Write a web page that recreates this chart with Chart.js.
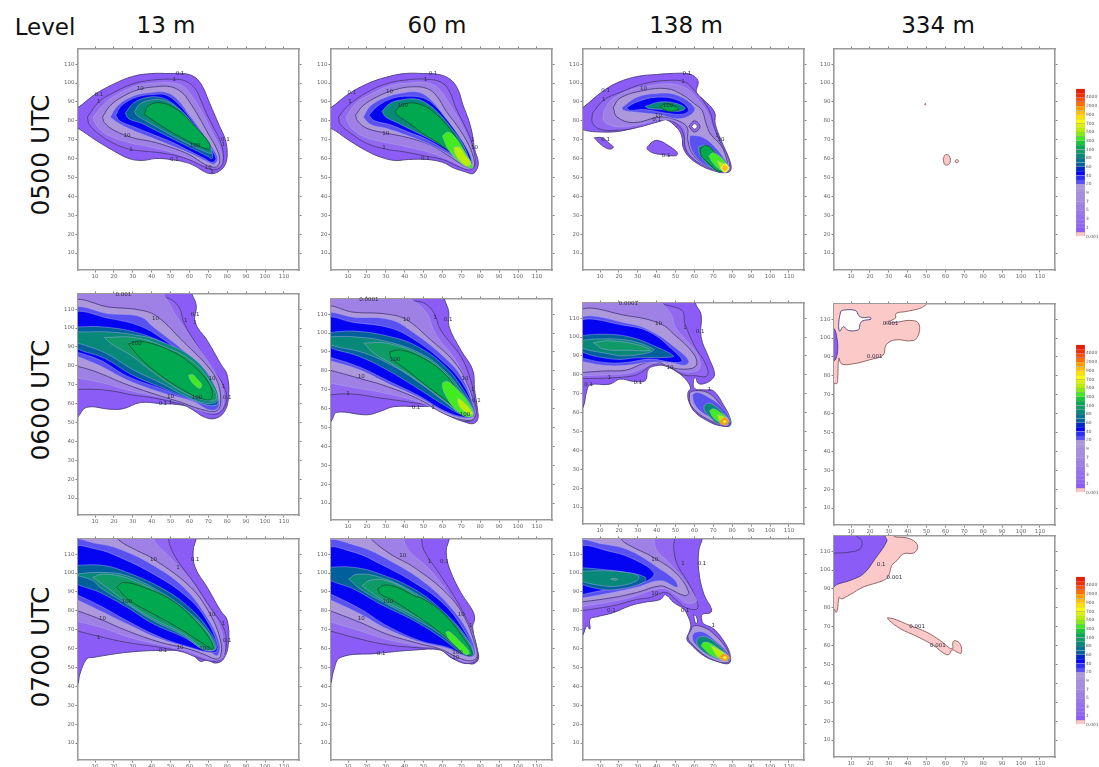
<!DOCTYPE html>
<html>
<head>
<meta charset="utf-8">
<title>Levels</title>
<script src="https://cdn.jsdelivr.net/npm/chart.js@4"></script>
<style>
  html, body { margin: 0; padding: 0; background: #fff; }
  body { position: relative; width: 1099px; height: 767px; overflow: hidden; }
  canvas { position: absolute; filter: blur(0.45px); }
  .head { position: absolute; font-family: "DejaVu Sans", sans-serif; font-size: 23px; color: #111; white-space: nowrap; transform: translate(-50%, -50%); }
  .side { position: absolute; font-family: "DejaVu Sans", sans-serif; font-size: 25px; color: #111; white-space: nowrap; transform: translate(-50%, -50%) rotate(-90deg); }
</style>
</head>
<body>
<script>
// axis and colour bar
const tickValues = [10, 20, 30, 40, 50, 60, 70, 80, 90, 100, 110];
const legendLevels = ['0.001','0.1','1','2','3','4','5','6','7','8','9','10','20','30','40','50','60','70','80','90','100','200','300','400','500','600','700','800','900','1000','2000','3000','4000','5000'];
const legendLabelled = ['0.001','1','3','5','7','9','20','40','60','80','100','300','500','700','900','2000','4000'];
const columnTitles = ['13 m', '60 m', '138 m', '334 m'];
const rowTitles = ['0500 UTC', '0600 UTC', '0700 UTC'];

// 0500 UTC 13 m
const a_01 = [[-2,86],[1,87],[10,94],[20,99.5],[30,103.5],[40,105],[50,105],[57,105],[63,103],[67,98],[70,91],[73,84],[76,77],[79,70],[80,63],[79,57],[76,53.5],[72,52],[68,53],[63,56],[58,58],[50,59.5],[42,60],[35,59],[28,60],[20,64],[10,70],[1,76],[-2,77]];
const a_1 = [[6,82],[12,90],[20,95],[30,99.5],[40,101.5],[52,102],[58,101],[63,97],[66,91],[69,84],[73,76],[76,70],[78,62],[77,56],[73,54],[68,55.5],[62,58.5],[55,61],[45,63],[35,64],[28,65],[20,68],[12,73],[7,78]];
const a_5 = [[9,82],[15,89],[22,94],[32,98.5],[42,100],[51,100],[57,98],[62,92],[67,84],[72,74],[76,66],[77,58],[74,55.3],[68,56.5],[60,60],[50,63.5],[40,66],[30,68],[20,71],[13,75],[10,79]];
const a_10 = [[14,82],[18,88],[25,93],[33,96.5],[42,98],[50,98],[56,95],[60,90],[65,82],[70,73],[74,66],[76,60],[75,56],[72,55.5],[68,57],[60,62],[50,66],[40,69],[30,71],[20,75],[15,79]];
const a_20 = [[18,82],[22,88],[30,93],[40,95],[48,95],[54,91],[60,83],[66,75],[72,66],[75,60],[73,57],[70,58],[62,62],[50,67],[40,71],[30,75],[22,79]];
const a_40 = [[21,83],[24,88],[32,92.5],[42,94],[48,93.5],[54,89],[60,82],[66,74],[71,66],[74,60],[72,58],[68,60],[60,64],[50,69],[40,73],[30,77],[23,80]];
const a_60 = [[26,84],[30,89],[36,92],[44,92.5],[50,90],[56,85],[62,78],[68,70],[72,63],[72,60],[70,61],[62,65],[52,70],[42,75],[34,79],[28,81]];
const a_80 = [[31,85],[34,89],[40,91],[46,91],[52,88],[58,83],[64,76],[70,68],[72,63],[70,63],[62,66.5],[52,71.5],[44,76],[36,80.5],[32,83]];
const a_100 = [[36,83.5],[38.4,88],[44.6,89.5],[53.4,86],[62,78],[69.7,69.4],[71,66],[69.7,65],[62,68],[53.4,72.4],[44.6,77.7]];
const a_text = [[55,105,'0.1'],[12,94,'0.1'],[12,90,'1'],[52,102,'1'],[34,97,'10'],[27,72,'10'],[29,65,'1'],[63,67,'100'],[52,59.5,'0.1'],[79,70,'0.1'],[78,67.5,'1'],[70,55,'10'],[72,53,'1']];

// 0500 UTC 60 m
const b_01 = [[-2,86],[1,87],[10,94],[20,99.5],[30,103],[40,105],[50,105],[58,104.5],[64,102],[68,97],[71,88],[74,80],[76,72],[77,65],[79,58],[78,54],[76,52],[72,53],[66,55],[60,58],[52,59.5],[42,59.5],[35,59],[28,60.5],[20,64],[10,70],[1,76],[-2,76]];
const b_1 = [[5,82],[10,88],[20,95],[30,99.5],[40,101.5],[52,102],[60,100],[64,95],[67,87],[71,79],[75,70],[77,62],[77,56],[74,54],[68,56],[60,59.5],[50,61.5],[40,63.5],[30,65],[20,68],[12,73],[6,78]];
const b_5 = [[9,82],[14,89],[22,94],[32,98.5],[42,100],[52,100],[58,97],[63,90],[68,82],[73,72],[77,60],[76,55],[72,55],[64,59],[54,63],[42,66],[30,68.5],[20,71],[13,75],[10,79]];
const b_10 = [[14,83],[18,88],[26,93],[35,96.5],[44,98],[52,97],[57,93],[62,85],[68,77],[74,67],[77,58],[76,55],[72,56],[64,61],[54,67],[42,71],[30,73.5],[20,76],[15,80]];
const b_20 = [[18,82],[22,88],[30,92.5],[40,95],[48,95],[54,91],[60,84],[66,76],[72,67],[76,58],[74,56],[70,58],[62,63],[52,68],[42,72],[30,76],[22,78]];
const b_40 = [[21,83],[26,88],[34,92],[42,93],[50,92],[56,88],[62,81],[68,73],[74,63],[75,58],[72,58],[64,63],[52,70],[42,74],[32,78],[24,80]];
const b_80 = [[28,85],[32,89],[38,91],[46,91.5],[52,89],[58,84],[64,77],[70,69],[74,60],[74,57],[71,58],[64,64],[54,70],[44,75],[36,79],[30,82]];
const b_100 = [[35,85],[38,88],[43,89.5],[50,88],[56,84],[62,78],[68,70],[74,60],[75,56],[72,57],[66,62],[58,68],[50,73],[42,79],[36,83]];
const b_300 = [[60,72],[63,74],[67,71],[71,65],[75,58],[76,55],[73,55.5],[68,59],[63,65]];
const b_500 = [[66,66],[69,66],[72,62],[75,58],[74,56],[71,57],[67,62]];
const b_text = [[55,105,'0.1'],[12,95,'0.1'],[11,90,'1'],[51,102,'1'],[32,95.5,'10'],[39,88,'100'],[30,73,'10'],[29,66,'1'],[51,60,'0.1'],[76,70,'1'],[77,66,'10']];

// 0500 UTC 138 m
const c_01 = [[-2,85],[1,87],[12,96],[20,100.5],[30,103.5],[40,104.5],[47,105],[56,105],[60,103.5],[62,100.5],[61,95],[65,91],[70.6,84.6],[71,78.4],[74,70],[79,58],[79,53.5],[76,52.5],[72,53],[64,56],[57,61],[54,66],[53.4,71.4],[51,76],[44,81],[36.6,80],[27.7,76],[12,74],[-2,77]];
const c_01b = [[7,71],[11,71],[15,68],[17,66],[15,65],[11,67]];
const c_01c = [[35,66],[38,69],[41,69.5],[46,67],[51,63],[50,61.5],[44,62],[38,63],[35,65]];
const c_1 = [[6,84],[12,91],[20.6,95],[33,99.6],[47,101.4],[55,100.5],[60,96],[65,90],[68.5,84],[70,78],[73,70],[78,59],[78,54],[73,53.5],[65,56.5],[58,61],[55,66],[54.5,72],[52,77],[46,80.5],[41,79.5],[30,76.5],[20,75],[10,75.5],[6,79]];
const c_5 = [[12,85],[16,91],[25,96],[36,98.5],[47,99.5],[56,97],[62,91],[67,84],[69,78],[72,71],[77.5,60],[77.5,54.5],[72.5,53.7],[65,56.7],[58.5,61.5],[55.5,68],[55,75],[50,79.5],[42,80.5],[28,77.5],[18,77],[12,80]];
const c_10 = [[17,87],[20.6,92],[33,96],[45.5,97],[54,93.5],[60,89],[64,85.5],[66,79],[68.5,73],[74,67],[77,60],[77,55],[72,54],[65,57],[59,62.5],[56.5,69.6],[56,76.7],[50,80.5],[42,82],[27.7,79],[19,82]];
const c_20 = [[21.5,87],[29.5,92.5],[40,94.5],[51,93.5],[60,87],[58,83],[51,81],[42,83],[29.5,84.5],[22.4,85.5]];
const c_40 = [[24,87],[29.5,90],[40,92.5],[51,91],[57,86],[54,83.5],[45.5,84],[33,86],[26,85.5]];
const c_80 = [[34,87.6],[42,90],[51,89],[55,86.5],[51,85],[42,86],[36,86.5]];
const c_100 = [[41.6,87.6],[45.5,89],[51,87],[51.7,86],[47,85],[43,86.4]];
const c_ring = [[57,77],[60,80],[63,77],[60,74]];
const c_hole = [[58.5,77],[60,78.5],[61.5,77],[60,75.5]];
const c_20b = [[57.5,72.3],[64,71.4],[70,67],[77,58],[78,54.5],[72,54.5],[65,57],[59.6,62.5],[57.5,67.8]];
const c_80b = [[62,66],[66,67],[72,62.5],[78,56.5],[77,53.5],[72,53.5],[67,57],[63,62]];
const c_100b = [[63,65],[66.4,67],[72,62],[78,55.5],[76,53.5],[72,53.5],[67,58],[63.5,61.5]];
const c_300b = [[67.6,61.5],[70,63],[74,60.5],[77.7,55.8],[76.5,53.8],[73,54.5],[69.5,58]];
const c_500b = [[72,59],[77,56],[76.5,53.5],[74,54.6]];
const c_700b = [[73.5,55],[76,57.5],[78.5,55],[76,52.5]];
const c_900b = [[74.5,55],[76,56.5],[77.5,55],[76,53.5]];
const c_text = [[56,105,'0.1'],[13,96,'0.1'],[12,91,'1'],[54,100.5,'1'],[33,97,'10'],[46,88,'100'],[41,82.5,'10'],[40,80.5,'0.1'],[13,70,'0.1'],[45,61.5,'0.1'],[72,72,'1'],[74,70,'10']];

// 0500 UTC 334 m
const d_dot = [[48.9,88.8],[49.3,89.2],[49.7,88.8],[49.3,88.4]];
const d_blob = [[58.8,60],[60,62],[62,61.5],[62.5,58],[61,56.6],[59.5,57]];
const d_small = [[65,58.5],[66,59.5],[67,58.5],[66,57.8]];

// 0600 UTC 13 m
const e_01 = [[-2,122],[60,122],[61.4,117.8],[63.6,112],[63,103],[69.4,93.4],[76.5,81],[80,75],[80.6,62.5],[78,55],[73,52],[67.6,53],[62,56.5],[57,59],[44.6,60],[34,60.5],[25,57.3],[18,57],[5.6,58],[1,53],[-2,50]];
const e_1 = [[-2,67.5],[10,67.5],[20,66.5],[30,64.5],[41,63],[53,60.3],[62,58],[71,54.5],[76.5,55.5],[79.7,62.5],[78,69.5],[72.6,78],[64,91],[57,103],[55,110],[51,114.6],[44.5,117.5],[38,122],[-2,122]];
const e_5 = [[-2,74],[14,71],[28,67],[44,63.5],[55,60.5],[65,56.5],[73,55],[77.5,58],[78,66],[75,74],[68,85],[60,96],[52,108],[48,115],[42,122],[-2,122]];
const e_10 = [[-2,80.5],[10,77],[27,70],[44.6,64],[55,60.8],[66,57],[74,56],[76.5,60],[75,71],[69.4,80],[57,92.5],[43,106],[34,109.5],[18,111],[-2,113.5]];
const e_20 = [[-2,86],[12.6,80],[27,72.5],[44.6,66],[62,61],[71,56.4],[75,57.6],[75.6,62.5],[69.4,76.7],[57,88],[41,100.5],[34,106],[18,107.5],[-2,110]];
const e_40 = [[-2,88],[12.6,83],[27,74.5],[44.6,68],[62,61.6],[74,59],[75,63.5],[69.4,74],[58.8,84.6],[44.6,95],[34,101],[18,105],[-2,107.6]];
const e_60 = [[-2,100.5],[15,100.5],[34,97],[50,90],[64,79],[74,66],[75,60],[70,59],[60,62.5],[44,69],[30,75],[15,84],[-2,91]];
const e_80 = [[-2,99],[1,98],[15,98],[30,96.5],[44.6,93],[62,84],[73,70],[75,62],[70,60],[60,63],[44.6,71],[30,78],[15,87],[1,92],[-2,93]];
const e_90 = [[15,95],[30.4,95],[44.6,91],[62,82],[73,68],[74,62],[67.6,62],[57,66],[43,75],[29,85.5],[18.7,91.6]];
const e_100 = [[27.7,91.6],[34,93],[50,88],[62,80],[71,69.5],[71.5,62.5],[66.7,62.5],[58.7,66],[44.6,75],[34,84]];
const e_300 = [[59.5,75],[61.5,75.5],[64,73],[66.5,70],[65.5,68],[63,69.5],[60.5,72.5]];
const e_text = [[25,117.5,'0.001'],[42,105,'10'],[58,104,'1'],[63,107,'0.1'],[63,103,'1'],[32,91.5,'100'],[72,73,'10'],[78,69,'1'],[80,63,'0.1'],[64,63,'100'],[50,63.5,'10'],[46,60,'0.1'],[50,60.5,'1']];

// 0600 UTC 60 m
const f_01 = [[-2,122],[60,122],[61,118],[63.3,111.4],[63.5,103.5],[69.7,91],[76,80.5],[77,70],[78.6,59.4],[78.6,54],[76,52],[71.5,53],[66,55],[61,57.6],[55.6,60.8],[46.7,61],[34.3,61],[27,58.5],[20,56.7],[4,58],[1.5,54],[-2,50]];
const f_1 = [[-2,67],[11,67.8],[27,65.6],[45,63],[57,60.8],[66,56],[73,53],[77.5,56],[77,64.7],[75,75],[69.7,87.6],[59,101.7],[55.6,110.5],[50,116],[39.6,117.6],[36,122],[-2,122]];
const f_5 = [[-2,74],[14,71],[28,68.5],[46,64],[60,58],[70,54],[76,55.5],[76,64],[72,76],[66,87],[56,100],[52,110],[46,116],[34,122],[-2,122]];
const f_10 = [[-2,81],[16,76],[30.6,71.7],[48,64.7],[62,56.7],[73,53.7],[77,55],[76.8,62],[73,73.5],[66,85],[53.6,96.5],[41,107],[30.6,110],[13,111],[-2,113]];
const f_20 = [[-2,86],[16,80.5],[30.6,73.5],[48,65.6],[60.6,58.5],[71,55],[77,56.2],[76.5,62],[70,77],[60.6,87.6],[45,100],[32.6,107],[13,108.4],[-2,109.6]];
const f_40 = [[-2,88],[16,82],[30.6,75],[48,66.5],[60.6,59],[71,55.5],[76.5,56.7],[76.5,61],[69.5,75],[59,86],[45,96.5],[32.6,102.6],[13,105.6],[-2,107.4]];
const f_60 = [[-2,100],[13,101],[32.6,98],[46.5,93],[60.6,83],[71,70],[76.8,57.6],[71,56.7],[60.6,62],[48,70],[30.6,80.5],[16,87.6],[-2,93.8]];
const f_80 = [[-2,98],[13,98],[30.6,95.5],[48,89.4],[60.6,80.5],[69.5,70],[76.5,57.6],[71,57],[60.6,64],[48,73.5],[34.3,82.3],[18.5,89.4],[-2,94.6]];
const f_90 = [[18.5,94.6],[30.6,94.6],[48,88.5],[60.6,79.6],[69.5,68],[75.8,56.7],[70,57],[60.6,64.6],[46.5,75],[34.3,83],[23.6,89.4]];
const f_100 = [[32,90],[37.6,91],[48,87.6],[60.6,79],[69.5,67.3],[76,56.7],[71.5,56],[62.5,63.8],[52,71.7],[41,80.5],[33,86.7]];
const f_300 = [[60,73.5],[62.5,74.4],[68,70],[74,63],[76.5,56.7],[73.5,55.5],[68,58.5],[63,64.7],[60,71]];
const f_500 = [[68,65.6],[70.6,64],[75,59.4],[76,56.7],[71.6,58.5],[68.5,62]];
const f_text = [[21,117.5,'0.0001'],[41,107,'10'],[56,108,'1'],[63,107,'0.1'],[35,86,'100'],[17,77,'10'],[10,68,'1'],[46,60.5,'0.1'],[55,60.5,'1'],[72,76,'10'],[76,70,'1'],[78,64,'0.1'],[72,57,'100']];

// 0600 UTC 138 m
const g_01 = [[-2,122],[62,122],[60.5,118],[63.5,112],[63.5,100],[67.6,89],[70.6,81],[69.4,77.7],[65,75.3],[62,75.5],[60.5,78.5],[59.5,77],[60,72.8],[65,72],[70,71.5],[75.6,63.6],[79,56.6],[78.8,53],[73.8,53],[68.5,54.8],[60.5,60],[57,66],[56.6,70.7],[58,73],[55,78],[50,82],[45,84.5],[41,85],[35.6,83],[34,77],[27.7,76.5],[20.6,77.7],[15,75],[4.7,74.7],[3,71.5],[1,62.7],[-2,60]];
const g_1 = [[-2,78],[14.4,78.3],[27.7,79.5],[33,82],[38,85.5],[45,85],[54,80],[60,79.5],[66.7,79.5],[66,85.6],[60.5,94.5],[55,107],[53.4,114],[42,118],[38,122],[-2,122]];
const g_5 = [[-2,79.5],[14,80],[26,81],[34,84],[40,86.2],[46,84.5],[55,81.5],[61,82],[63,84],[62,90],[56,98],[50,105],[47,113],[36,122],[-2,122]];
const g_10 = [[-2,81],[12,82],[24,82.5],[33,86],[40,87],[47,84],[56,83],[61,85],[59.6,91],[49,101.6],[42,107],[26,111],[-2,113]];
const g_20 = [[-2,87.5],[12,85],[24,85],[35,86.5],[47,86.5],[55,85],[57,87.4],[50.8,93.6],[38.4,102.4],[26,107],[-2,109.5]];
const g_40 = [[-2,89.5],[12,86.5],[24,86.5],[36.7,88.3],[49,86.5],[53.4,87.4],[49,92.7],[36.7,102.4],[24,106],[-2,108]];
const g_60 = [[-2,100.6],[12,101.5],[26,100],[38.4,95.4],[49,90],[45.4,89.2],[29.5,89],[17,88.3],[-2,93.6]];
const g_80 = [[-2,98],[10,99],[26,98],[38.4,93.6],[36.7,92],[24,90],[15,91],[-2,95]];
const g_90 = [[6.5,97],[15,98],[29.5,96],[36.7,93],[24,93],[12,93.6]];
const g_10b = [[57.5,70.7],[60.5,71.6],[66.7,70.7],[72,66.3],[78,57.5],[78,53],[73.8,53.6],[66.7,56.6],[60.5,61],[57.5,65.4]];
const g_20b = [[58.8,69.4],[61.5,70.7],[67.6,68],[73.8,63.6],[78.8,56.6],[77.4,54],[70.3,56.6],[64,60],[60,64.5]];
const g_80b = [[65,63.6],[67.6,65],[72,62.7],[78,56.6],[78,54],[72,54.3],[67.6,58.3],[65.4,61]];
const g_300b = [[68,61],[70,62],[73.8,60],[77.7,56.6],[76.5,54],[72,55.5],[69.4,58]];
const g_500b = [[72,59],[77.4,57],[77.4,54.3],[73.8,55]];
const g_900b = [[73,55.2],[76,57.4],[78.2,55.5],[76.5,53.4],[74,54]];
const g_700b = [[75,55.2],[76,56],[77,55.2],[76,54.5]];
const g_text = [[25,117.5,'0.0001'],[41,107,'10'],[55,105,'1'],[63,103,'0.1'],[15,78.5,'1'],[30,76,'0.1'],[47,84,'10'],[68,72,'1'],[4,75,'0.1']];

// 0600 UTC 334 m
const h_pink = [[-2,122],[52,122],[50,118],[46.4,115.7],[39,114],[33.8,113],[33.5,110.5],[28,108],[34,108.3],[41,109.3],[45.6,108],[46,102.6],[43,98.7],[33.3,99],[28.6,96.4],[27,91],[20,88.5],[11,86.3],[5,86.3],[3.6,89.4],[3,80],[2.6,76],[1,76],[-2,76]];
const h_hole = [[4.5,114],[6,114.8],[12.5,114.5],[14,112],[16,110.8],[20,111],[20.5,110],[16,109],[14.7,107],[14,104.4],[8.6,104],[6,106],[4,103.6],[3.5,108]];
const h_purple = [[-2,106],[1,105],[2.5,100],[3,94],[2,89],[1,88],[-2,88]];
const h_text = [[31,107.5,'0.001'],[22.5,90,'0.001']];

// 0700 UTC 13 m
const i_01 = [[-2,122],[64,122],[63.4,117.6],[62,112],[63,103],[69.4,92.4],[76.5,80],[80,75],[80.6,62.4],[78,54.4],[73.8,52.3],[69.4,54],[65.9,53.2],[62.3,56.2],[58,58.5],[44.6,59],[27,58],[9,55.3],[5.6,54.5],[2,46.5],[1,41.5],[-2,35]];
const i_1 = [[-2,70],[12.6,66.3],[27,63.2],[44.6,60.6],[57,58],[64,55.3],[73,53.2],[77.4,55.3],[79.5,62.4],[78,71.2],[71,81.8],[62.3,95],[55,104.7],[50.8,111.8],[49,117.5],[49,122],[-2,122]];
const i_5 = [[-2,75],[14,71],[28,66],[44.6,62],[58,59],[66,56],[74,53.8],[78,56],[78,64],[75,74],[68,85],[60,97],[50,108],[42,116],[38,122],[-2,122]];
const i_10 = [[-2,81],[12.6,75.6],[27,69.4],[44.6,63.3],[58.8,60],[67.6,57],[74,54.4],[76.5,56],[76.5,64],[71,78],[60.7,92.4],[41,107.4],[32,112],[22.4,117.6],[20,122],[-2,122]];
const i_20 = [[-2,87],[12.6,80],[27,73],[44.6,65],[58.8,61],[71,58],[74.7,56.2],[76,62.4],[69.4,76.5],[57,92.4],[41,104],[23.3,112.6],[10.9,115.6],[-2,116.7]];
const i_40 = [[-2,89.7],[12.6,82.7],[27,74.7],[44.6,66],[60.5,60.6],[73,58],[75,61.5],[67.6,77.4],[57,88.8],[41,99.4],[23.3,108.2],[10.9,112.6],[-2,113]];
const i_60 = [[-2,104],[14.4,104],[27,100.3],[44.6,92.4],[58.8,82.7],[69.4,71.2],[74.4,60.6],[69.4,59],[57,66],[41,73],[27,81.8],[12.6,89.7],[-2,96]];
const i_80 = [[-2,99.4],[14.4,100.3],[27,98.5],[44.6,90],[58.8,80],[69.4,69.4],[73.8,59.8],[67.6,59.3],[57,66.8],[41,74.7],[27,83.5],[12.6,92.4],[8.8,96]];
const i_90 = [[8.8,97.7],[14.4,99.4],[27,97.3],[44.6,89],[58.8,79],[69.4,68.5],[73,59.8],[67.6,59.8],[57,67.7],[41,75.6],[27,84.4],[16.2,92.4]];
const i_100 = [[21.5,92.4],[25,95],[35.7,92.4],[50,86],[62.3,75.6],[70.3,65.9],[72.6,59.8],[67.6,62.4],[55.3,70.3],[41,78.3],[28.6,85.3]];
const i_text = [[41,107,'10'],[54,103,'1'],[63,107,'0.1'],[78,73,'1'],[80,64,'0.1'],[72,78,'10'],[27,85,'100'],[14,76,'10'],[12,66,'1'],[46,59,'0.1'],[55,60.5,'10'],[68,60,'100']];

// 0700 UTC 60 m
const j_01 = [[-2,122],[64,122],[63.5,117.6],[62,111.8],[63.5,103],[69.7,89.7],[76,80],[77,75.6],[76,71.2],[78.6,59],[79,54.4],[76,51.8],[71.5,53.2],[64.4,55.3],[59,59.2],[45,59.2],[25.4,57.4],[6,55.3],[2.4,48.3],[1,42],[-2,35]];
const j_1 = [[-2,70],[16.5,65],[30.7,62],[48.5,60.3],[58.2,59.7],[66,54.4],[73.2,52],[78.3,54.4],[77.7,62.4],[74,73],[66,88],[57.3,101.2],[50.3,111.8],[49,117.6],[49,122],[-2,122]];
const j_5 = [[-2,75],[16,69.5],[30,65],[48,61.3],[58.5,59.7],[67,55],[74,52.8],[78,55],[77.3,63],[73,74.5],[64,88],[53,102],[42,112],[36,122],[-2,122]];
const j_10 = [[-2,81],[16.5,73.8],[30.7,67.6],[48.5,62.4],[59,59.7],[68,55.3],[75,53.5],[78.3,55.7],[77,63],[71.7,76.5],[62.7,88.8],[45,103],[32.5,110],[22.7,117.6],[20,122],[-2,122]];
const j_20 = [[-2,87],[16.5,78.3],[30.7,70.3],[48.5,63.3],[62.7,60],[73.2,55.7],[77.2,56.8],[75,65.9],[66,80],[51.8,94],[34,105.6],[14.8,114.4],[-2,116]];
const j_40 = [[-2,90.2],[16.5,81],[30.7,72],[48.5,64],[62.7,60.6],[73.2,56.2],[76.5,58],[71.5,69.4],[60.8,83.5],[45,95],[27.2,104.7],[13,111],[-2,112.6]];
const j_60 = [[-2,103],[13,103],[27.2,99.4],[45,91.5],[59,81],[71.5,67.7],[76.5,57.4],[71.5,57],[59,66],[45,74.7],[27.2,83.5],[13,91.5],[-2,97.7]];
const j_80 = [[10.4,96.8],[14.8,99.4],[27.2,97.7],[45,89.7],[59,80],[71.5,66.8],[76.5,57],[71.5,57.4],[59,67.7],[45,76],[29,84.4],[16.5,91.5]];
const j_90 = [[17.4,93.2],[21.8,96.2],[30.7,95.9],[45,88.8],[57.3,80],[69.7,67.7],[75.8,56.8],[71.5,57.4],[59,68.5],[45,77.4],[29,85.3]];
const j_100 = [[25.7,91.5],[29,93.6],[36,92.4],[45,88],[50.3,86],[60.8,78.3],[71.5,65],[75.8,56.8],[71.5,57],[60.8,66.8],[45,78.3],[32.5,86.2],[27.2,88.8]];
const j_300 = [[61.8,68.6],[63.5,69],[68.9,64.1],[74.2,58],[72.4,56.7],[68,60.6],[63.5,65]];
const j_text = [[39,109,'10'],[53,106,'1'],[61,106,'0.1'],[75,72,'1'],[70,78,'10'],[31,85,'100'],[17,76,'10'],[27.5,57.6,'0.1'],[68,58,'100'],[67,55,'10']];

// 0700 UTC 138 m
const k_01 = [[-2,122],[65,122],[64,117.6],[62.3,111.8],[62.3,101],[65,88.8],[69,81],[68.5,79],[64,78],[64,74.7],[65,73],[70.3,70.3],[76.5,62.4],[79,56.2],[78.3,52.2],[72,53.2],[65,56.2],[58.8,61.5],[56,65],[57.5,69.4],[58,73],[56,78.3],[54.3,81],[49,84.4],[44.6,88.5],[42,86],[33,84.4],[26,82.7],[17,79],[8.2,76.8],[4.7,75.6],[4.7,70.3],[3,72],[1,67.3],[-2,63]];
const k_slit = [[59.5,78],[61,77],[61.5,73.5],[60.5,73.5]];
const k_1 = [[-2,79.7],[17,82.7],[29.5,86],[36.6,87],[44.6,89.7],[50.8,85.3],[55,81.8],[61.4,81],[61,86],[56,96],[50.8,104.7],[49,113.5],[49.4,117.6],[49,122],[-2,122]];
const k_5 = [[-2,82],[17,85],[29.5,88],[38,91],[44.6,91.5],[51,87.5],[56,84],[61,85],[60,88],[54,97],[46,106],[40,112],[36,122],[-2,122]];
const k_10 = [[-2,84.4],[17,87],[29.5,89.7],[42,93.2],[47,91.5],[55,88],[57,89.7],[50.8,99.4],[38.4,108.2],[26,114.4],[21.5,117.6],[20,122],[-2,122]];
const k_20 = [[-2,86.2],[17,89.7],[29.5,92.4],[42,95.9],[50.8,92.4],[50,95.9],[42,102],[26,111.8],[11.8,115.3],[-2,116.2]];
const k_40 = [[-2,88],[17,92],[29.5,94.1],[36.6,96.8],[38.4,100.3],[29.5,106.5],[17,111],[-2,113]];
const k_60 = [[-2,103],[10,102],[24,100.3],[34,97.7],[33,95],[20.6,91.5],[10,91.5],[-2,96]];
const k_80 = [[-2,100.8],[11.8,101.2],[24,100.3],[30.4,98.5],[29.5,95.9],[20.6,93.2],[11.8,93.2],[-2,96.8]];
const k_90 = [[15.7,96.8],[17.4,97.2],[19.4,96.6],[17.4,96.2]];
const k_10b = [[57.9,69.4],[59.6,72],[65,71.2],[70.3,67.7],[76.5,60.6],[78.8,54.4],[77.4,52.5],[72,53.2],[65,56.7],[58.8,62.4],[56.5,65.9]];
const k_20b = [[58.8,66.8],[60.5,68.6],[65,68.6],[72,63.3],[77.4,58],[78.8,54],[72,54.4],[65,58],[59.6,63.3]];
const k_80b = [[61,63.3],[62.3,66],[66.7,66],[72,62.4],[77.4,56.7],[78.3,53.6],[73,54.4],[66.7,57],[62.3,60.6]];
const k_300b = [[63.5,61.5],[65,63.3],[68.5,62.7],[73,59.8],[77.4,56.2],[76.5,54],[72,55],[67.6,57.4]];
const k_500b = [[68.5,61.5],[71,60.6],[77.4,56.2],[77.4,53.6],[73,55]];
const k_900b = [[72.8,55.3],[75.6,57.2],[78.5,55.3],[76,53.4]];
const k_700b = [[74.8,55.2],[76,56],[77.2,55.2],[76,54.4]];
const k_text = [[39,107,'10'],[54,105,'1'],[64,105,'0.1'],[39,89,'10'],[55,80,'0.1'],[16,80,'0.1'],[70,72,'1']];

// 0700 UTC 334 m
const l_pink = [[-2,122],[34,122],[32.5,118],[39.6,117],[44,114.8],[45.3,112],[43.2,109],[37.8,108.6],[34.3,105],[31.6,102.4],[29.9,97],[27.2,94.5],[16.6,91],[9.5,87],[5,84.7],[3.8,85.6],[2.7,78.6],[2,77.6],[1,79.4],[-2,80]];
const l_purple = [[-2,122],[28,122],[28,118],[29,115.4],[22.8,106],[16.6,98],[9.5,94.5],[2.4,92.3],[1,91],[-2,90]];
const l_inner = [[-2,122],[13,122],[13,118],[15.7,115.6],[14.8,111.2],[9.5,109.5],[2.4,109],[-2,109]];
const l_blob = [[29.3,74.7],[32.4,74.2],[41.3,70.6],[50.2,67],[57.3,62.6],[63.5,58.2],[64,61.8],[65.3,62.6],[68,60.5],[68.3,56],[66.2,56.5],[63.5,57.7],[61.8,55.2],[59.1,55.9],[53.8,60],[45,64.8],[36,69],[29.9,73.6]];
const l_text = [[26,103,'0.1'],[33,96,'0.001'],[45,70,'0.001'],[56,60,'0.001']];

// colours
const levelColors = {
  '0.001':'#fcc9c9','0.1':'#8c5cf6','1':'#9368f0','2':'#956cee','3':'#9870ec','4':'#9b76e9','5':'#9f80e4','6':'#a286e0','7':'#a58cdf','8':'#a890de','9':'#aa94dd','10':'#ad98dc',
  '20':'#5a52f0','30':'#2c2cf4','40':'#0404f2','50':'#0028c8','60':'#00609c','70':'#00708c','80':'#088878','90':'#109a68','100':'#00a850','200':'#18c838','300':'#40ec20',
  '400':'#80ee10','500':'#b8f000','600':'#dcf400','700':'#ffff00','800':'#ffe000','900':'#ffc000','1000':'#ffa000','2000':'#ff7000','3000':'#ff5010','4000':'#f03000','5000':'#e02000',
  'hole':'#ffffff'
};
const darkLevels = ['0.1','1','10','100','hole'];

function band(level, pts) {
  var dark = darkLevels.indexOf(level) >= 0;
  var line = 'rgba(170,170,235,0.8)';
  if (dark) line = '#4b3d80';
  if (level === '100') line = '#0a5a30';
  if (level === '0.001') line = '#8a5a5a';
  return {
    data: pts.concat([pts[0]]).map(function(p){ return {x: p[0], y: p[1]}; }),
    showLine: true,
    fill: 'shape',
    tension: 0.4,
    pointRadius: 0,
    backgroundColor: levelColors[level],
    borderColor: line,
    borderWidth: dark || level === '0.001' ? 0.9 : 0.6
  };
}

const panels = [
  {left:78, top:49, text:a_text, bands:[['0.1',a_01],['1',a_1],['5',a_5],['10',a_10],['20',a_20],['40',a_40],['60',a_60],['80',a_80],['100',a_100]]},
  {left:331, top:49, text:b_text, bands:[['0.1',b_01],['1',b_1],['5',b_5],['10',b_10],['20',b_20],['40',b_40],['80',b_80],['100',b_100],['300',b_300],['500',b_500]]},
  {left:583, top:49, text:c_text, bands:[['0.1',c_01],['0.1',c_01b],['0.1',c_01c],['1',c_1],['5',c_5],['10',c_10],['20',c_20],['40',c_40],['80',c_80],['100',c_100],['1',c_ring],['hole',c_hole],['20',c_20b],['80',c_80b],['100',c_100b],['300',c_300b],['500',c_500b],['700',c_700b],['900',c_900b]]},
  {left:834, top:49, text:[], bands:[['0.001',d_dot],['0.001',d_blob],['0.001',d_small]]},
  {left:78, top:294, text:e_text, bands:[['0.1',e_01],['1',e_1],['5',e_5],['10',e_10],['20',e_20],['40',e_40],['60',e_60],['80',e_80],['90',e_90],['100',e_100],['300',e_300]]},
  {left:331, top:299, text:f_text, bands:[['0.1',f_01],['1',f_1],['5',f_5],['10',f_10],['20',f_20],['40',f_40],['60',f_60],['80',f_80],['90',f_90],['100',f_100],['300',f_300],['500',f_500]]},
  {left:583, top:303, text:g_text, bands:[['0.1',g_01],['1',g_1],['5',g_5],['10',g_10],['20',g_20],['40',g_40],['60',g_60],['80',g_80],['90',g_90],['10',g_10b],['20',g_20b],['80',g_80b],['300',g_300b],['500',g_500b],['1000',g_900b],['700',g_700b]]},
  {left:834, top:304, text:h_text, bands:[['0.001',h_pink],['hole',h_hole],['0.1',h_purple]]},
  {left:78, top:539, text:i_text, bands:[['0.1',i_01],['1',i_1],['5',i_5],['10',i_10],['20',i_20],['40',i_40],['60',i_60],['80',i_80],['90',i_90],['100',i_100]]},
  {left:331, top:539, text:j_text, bands:[['0.1',j_01],['1',j_1],['5',j_5],['10',j_10],['20',j_20],['40',j_40],['60',j_60],['80',j_80],['90',j_90],['100',j_100],['300',j_300]]},
  {left:583, top:539, text:k_text, bands:[['0.1',k_01],['hole',k_slit],['1',k_1],['5',k_5],['10',k_10],['20',k_20],['40',k_40],['60',k_60],['80',k_80],['90',k_90],['10',k_10b],['20',k_20b],['80',k_80b],['300',k_300b],['500',k_500b],['1000',k_900b],['700',k_700b]]},
  {left:834, top:536, text:l_text, bands:[['0.001',l_pink],['0.1',l_purple],['0.1',l_inner],['0.001',l_blob]]}
];

const legendTops = [88, 344, 576];

const contourText = {
  id: 'contourText',
  afterDatasetsDraw: function(chart, args, opts) {
    var c = chart.ctx;
    c.save();
    c.font = '5.5px "DejaVu Sans"';
    c.fillStyle = '#2c2c40';
    c.textAlign = 'center';
    c.textBaseline = 'middle';
    opts.items.forEach(function(t){
      c.fillText(t[2], chart.scales.x.getPixelForValue(t[0]), chart.scales.y.getPixelForValue(t[1]));
    });
    c.restore();
  }
};

function addCanvas(left, top, w, h) {
  var cv = document.createElement('canvas');
  cv.width = w; cv.height = h;
  cv.style.left = left + 'px';
  cv.style.top = top + 'px';
  cv.style.width = w + 'px';
  cv.style.height = h + 'px';
  document.body.appendChild(cv);
  return cv;
}

function axis(position, size, labelled) {
  return {
    type: 'linear', position: position, min: 1, max: 118,
    afterBuildTicks: function(s){ s.ticks = tickValues.map(function(v){ return {value: v}; }); },
    afterFit: function(s){ if (s.isHorizontal()) s.height = size; else s.width = size; },
    border: {display: true, color: '#9a9a9a', width: 1.6},
    grid: {drawOnChartArea: false, drawTicks: true, tickLength: 2.5, color: '#808080', tickColor: '#808080'},
    ticks: {
      display: labelled, autoSkip: false, maxRotation: 0, padding: 1,
      color: '#666', font: {size: 5.5, family: '"DejaVu Sans"'}
    }
  };
}

//PANELS
panels.forEach(function(p){
  var padL = 18, padT = 6, padR = 6, padB = 14;
  var cv = addCanvas(p.left - padL, p.top - padT, 221 + padL + padR, 221 + padT + padB);
  new Chart(cv, {
    type: 'scatter',
    data: {datasets: p.bands.map(function(b){ return band(b[0], b[1]); }).reverse()},
    plugins: [contourText],
    options: {
      responsive: false, animation: false, events: [], devicePixelRatio: 1,
      layout: {padding: 0},
      plugins: {legend: {display: false}, tooltip: {enabled: false}, contourText: {items: p.text}},
      scales: {
        x: axis('bottom', padB, true),
        y: axis('left', padL, true),
        xTop: axis('top', padT, false),
        yRight: axis('right', padR, false)
      }
    }
  });
});

//COLOUR BARS
legendTops.forEach(function(top){
  var cv = addCanvas(1076, top - 3, 23, 155);
  new Chart(cv, {
    type: 'bar',
    data: {
      labels: [''],
      datasets: legendLevels.map(function(l){
        return {data: [1], backgroundColor: levelColors[l], borderColor: l === '0.001' ? '#8a5060' : 'rgba(110,90,170,0.55)', borderWidth: 0.5, barPercentage: 1, categoryPercentage: 1};
      })
    },
    options: {
      responsive: false, animation: false, events: [], devicePixelRatio: 1,
      layout: {padding: {top: 3, bottom: 3}},
      plugins: {legend: {display: false}, tooltip: {enabled: false}},
      scales: {
        x: {stacked: true, display: false},
        y: {
          stacked: true, position: 'right', min: 0, max: legendLevels.length,
          afterBuildTicks: function(s){
            s.ticks = legendLabelled.map(function(l){ return {value: legendLevels.indexOf(l)}; });
          },
          afterFit: function(s){ s.width = 14; },
          border: {display: false},
          grid: {display: false, drawTicks: false, tickLength: 0},
          ticks: {
            autoSkip: false, padding: 1, color: '#555', font: {size: 4.4, family: '"DejaVu Sans"'},
            callback: function(v){ return legendLevels[v]; }
          }
        }
      }
    }
  });
});

//TITLES
function addText(cls, text, x, y) {
  var el = document.createElement('div');
  el.className = cls;
  el.textContent = text;
  el.style.left = x + 'px';
  el.style.top = y + 'px';
  document.body.appendChild(el);
}
addText('head', 'Level', 45, 27);
[166, 437, 686, 938].forEach(function(x, i){ addText('head', columnTitles[i], x, 25); });
[155, 400, 647].forEach(function(y, i){ addText('side', rowTitles[i], 40, y); });
</script>
</body>
</html>
